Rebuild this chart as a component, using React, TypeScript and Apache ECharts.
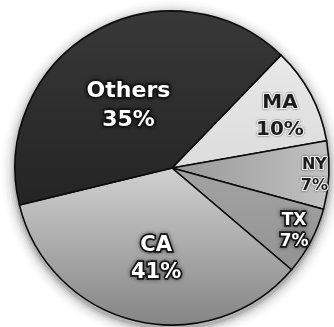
import React, { useEffect, useRef } from "react";
import * as echarts from "echarts";

const states = ["MA", "NY", "TX", "CA", "Others"];
const sliceShares = [10, 7, 7, 35, 41];
const shownPercent = [10, 7, 7, 41, 35];

const sliceColors: any[] = [
  ["#e8e8e8", "#dcdcdc", 0, 0, 0, 1],
  ["#979797", "#c2c2c2", 0, 0, 1, 0],
  ["#a3a3a3", "#939393", 0, 0, 0, 1],
  ["#d0d0d0", "#858585", 0, 0, 0, 1],
  ["#383838", "#242424", 0, 0, 0, 1],
];
const lightText = [false, false, true, true, true];
const fontSizes = [20, 16, 17, 21, 22];
const lineHeights = [27, 21, 21, 27, 29];
const labelShift = [
  [36, -15],
  [61, 2],
  [50, 23],
  [3, 10],
  [-3, 7],
];
const pieCenter = [172, 168];
const pieRadius = 157;
const shadowDrop = 3;
const shadowBands = [
  [150, 159, 0.3],
  [159, 161, 0.2],
  [161, 163, 0.13],
  [163, 165, 0.08],
  [165, 167, 0.05],
  [167, 169, 0.028],
  [169, 171, 0.012],
];

export default function App() {
  const ref = useRef<HTMLDivElement>(null);
  useEffect(() => {
    document.body.style.margin = "0";
    const chart = echarts.init(ref.current!, undefined, { renderer: "svg" });
    const data = states.map((name, i) => {
      const c = sliceColors[i];
      const light = lightText[i];
      return {
        name,
        value: sliceShares[i],
        itemStyle: {
          color: new echarts.graphic.LinearGradient(c[2], c[3], c[4], c[5], [
            { offset: 0, color: c[0] },
            { offset: 1, color: c[1] },
          ]),
        },
        label: {
          color: light ? "#ffffff" : "#1c1c1c",
          textBorderColor: light ? "#161616" : "#f2f2f2",
          textBorderWidth: light ? 3.5 : 2,
          textShadowColor: "rgba(0,0,0,0.6)",
          textShadowBlur: light ? 4 : 2,
          fontSize: fontSizes[i],
          lineHeight: lineHeights[i],
        },
      };
    });
    const shadowSeries = shadowBands.map((b) => ({
      type: "pie",
      silent: true,
      center: [pieCenter[0], pieCenter[1] + shadowDrop],
      radius: [b[0], b[1]],
      z: 1,
      label: { show: false },
      labelLine: { show: false },
      itemStyle: { borderWidth: 0, color: `rgba(0,0,0,${b[2]})` },
      emphasis: { disabled: true },
      data: [{ name: "shade", value: 1 }],
    }));
    chart.setOption({
      animation: false,
      backgroundColor: "#ffffff",
      series: [
        ...shadowSeries,
        {
          type: "pie",
          center: pieCenter,
          radius: [0, pieRadius],
          startAngle: 46,
          clockwise: true,
          z: 2,
          itemStyle: { borderColor: "#0a0a0a", borderWidth: 1.6 },
          labelLine: { show: false },
          label: {
            show: true,
            position: "inside",
            fontFamily: "DejaVu Sans",
            fontWeight: "bold",
            align: "center",
            formatter: (p: any) => `${states[p.dataIndex]}\n${shownPercent[p.dataIndex]}%`,
          },
          labelLayout: (p: any) => ({
            dx: labelShift[p.dataIndex][0],
            dy: labelShift[p.dataIndex][1],
          }),
          data,
        },
      ],
    });
    return () => chart.dispose();
  }, []);
  return (
    <div
      ref={ref}
      style={{ position: "fixed", left: 0, top: 0, width: 334, height: 327 }}
    />
  );
}
